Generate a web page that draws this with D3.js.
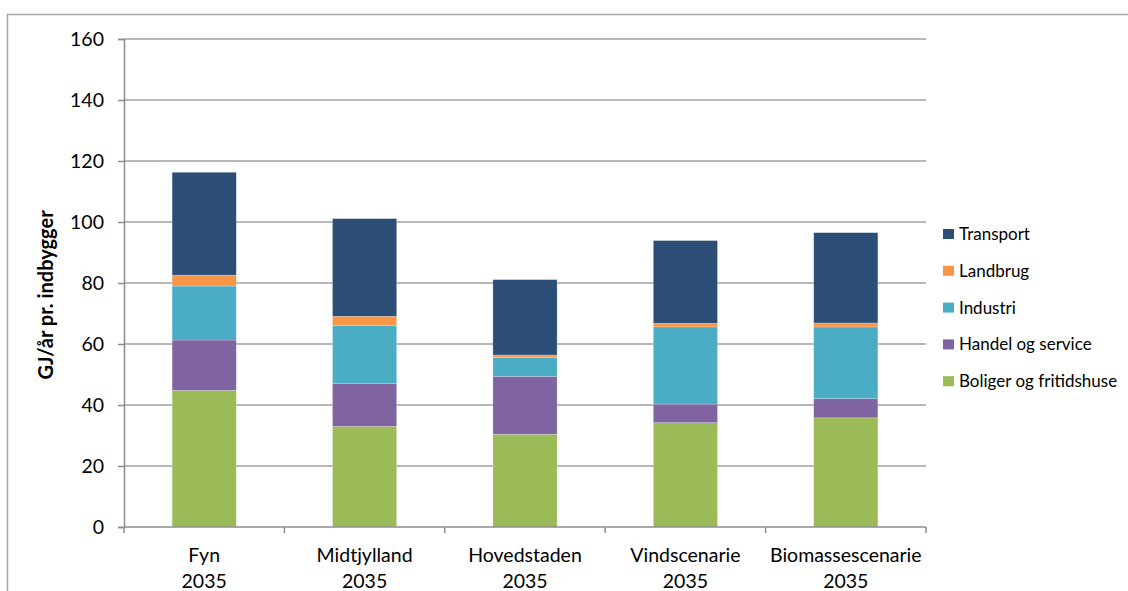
<!DOCTYPE html>
<html>
<head>
<meta charset="utf-8">
<script src="https://cdn.jsdelivr.net/npm/d3@7"></script>
<style>
  body { margin: 0; background: #fff; }
  text { font-family: Lato, "Open Sans", sans-serif; fill: #000; }
</style>
</head>
<body>
<div id="chart"></div>
<script>
// Chart data
const categories = ['Fyn', 'Midtjylland', 'Hovedstaden', 'Vindscenarie', 'Biomassescenarie'];
const years = ['2035', '2035', '2035', '2035', '2035'];
const seriesNames = ['Boliger og fritidshuse', 'Handel og service', 'Industri', 'Landbrug', 'Transport'];
const boliger = [44.8, 33.0, 30.4, 34.2, 35.8];
const handel = [16.5, 14.0, 19.0, 6.1, 6.3];
const industri = [17.7, 19.0, 6.2, 25.3, 23.5];
const landbrug = [3.6, 3.1, 0.8, 1.2, 1.3];
const transport = [33.7, 32.0, 24.7, 27.1, 29.6];
const yTicks = [0, 20, 40, 60, 80, 100, 120, 140, 160];
const colors = ['#9bbb59', '#8064a2', '#4bacc6', '#f79646', '#2c4d75'];

const seriesValues = [boliger, handel, industri, landbrug, transport];

const width = 1128, height = 591;
const margin = { left: 124, right: 202, top: 39, bottom: 64 };

const svg = d3.select('#chart').append('svg')
    .attr('width', width)
    .attr('height', height);

// chart area border (only top and left edges visible)
svg.append('path')
    .attr('d', `M7.5,${height} V14.5 H${width}`)
    .attr('fill', 'none')
    .attr('stroke', '#a6a6a6')
    .attr('stroke-width', 1.5);

const x = d3.scaleBand()
    .domain(categories)
    .range([margin.left, width - margin.right])
    .paddingInner(0.6)
    .paddingOuter(0.3);

const y = d3.scaleLinear()
    .domain([0, 160])
    .range([height - margin.bottom, margin.top]);

// gridlines
svg.append('g')
    .selectAll('line')
    .data(yTicks.filter(d => d > 0))
    .enter()
    .append('line')
    .attr('x1', margin.left)
    .attr('x2', width - margin.right)
    .attr('y1', d => y(d))
    .attr('y2', d => y(d))
    .attr('stroke', '#a0a0a0')
    .attr('stroke-width', 1.5);

// stacked bars
const rows = categories.map((c, i) => {
    const row = { cat: c };
    seriesNames.forEach((s, j) => { row[s] = seriesValues[j][i]; });
    return row;
});
const stack = d3.stack().keys(seriesNames)(rows);

svg.append('g')
    .selectAll('g')
    .data(stack)
    .enter()
    .append('g')
    .attr('fill', (d, i) => colors[i])
    .selectAll('rect')
    .data(d => d)
    .enter()
    .append('rect')
    .attr('x', d => x(d.data.cat))
    .attr('width', x.bandwidth())
    .attr('y', d => y(d[1]))
    .attr('height', d => y(d[0]) - y(d[1]))
    .attr('stroke', 'rgba(255,255,255,0.35)')
    .attr('stroke-width', 0.6);

// y axis
const yAxis = svg.append('g')
    .attr('transform', `translate(${margin.left},0)`)
    .call(d3.axisLeft(y).tickValues(yTicks).tickSize(6).tickPadding(14));
yAxis.select('.domain').attr('stroke', '#8c8c8c').attr('stroke-width', 1.5);
yAxis.selectAll('.tick line').attr('stroke', '#8c8c8c').attr('stroke-width', 1.5);
yAxis.selectAll('.tick text')
    .attr('font-size', 19.5)
    .attr('font-family', 'Lato, "Open Sans", sans-serif')
    .attr('fill', '#000');

// x axis
const xg = svg.append('g');
xg.append('line')
    .attr('x1', margin.left)
    .attr('x2', width - margin.right)
    .attr('y1', y(0))
    .attr('y2', y(0))
    .attr('stroke', '#8c8c8c')
    .attr('stroke-width', 1.5);
xg.selectAll('.xtick')
    .data(d3.range(categories.length + 1))
    .enter()
    .append('line')
    .attr('class', 'xtick')
    .attr('x1', i => margin.left + i * x.step())
    .attr('x2', i => margin.left + i * x.step())
    .attr('y1', y(0))
    .attr('y2', y(0) + 6)
    .attr('stroke', '#8c8c8c')
    .attr('stroke-width', 1.5);

const labels = xg.selectAll('.xlabel')
    .data(categories)
    .enter()
    .append('text')
    .attr('class', 'xlabel')
    .attr('text-anchor', 'middle')
    .attr('font-size', 19.5)
    .attr('x', d => x(d) + x.bandwidth() / 2);
labels.append('tspan')
    .attr('x', d => x(d) + x.bandwidth() / 2)
    .attr('y', 562)
    .text(d => d);
labels.append('tspan')
    .attr('x', d => x(d) + x.bandwidth() / 2)
    .attr('y', 588)
    .text((d, i) => years[i]);

// y axis title
svg.append('text')
    .attr('transform', `translate(53,295) rotate(-90)`)
    .attr('text-anchor', 'middle')
    .attr('font-size', 20)
    .attr('font-weight', 'bold')
    .text('GJ/år pr. indbygger');

// legend (reversed order, Transport on top)
const legendOrder = seriesNames.map((s, i) => ({ name: s, color: colors[i] })).reverse();
const legend = svg.append('g')
    .selectAll('g')
    .data(legendOrder)
    .enter()
    .append('g')
    .attr('transform', (d, i) => `translate(943,${234 + i * 36.8})`);
legend.append('rect')
    .attr('x', 0)
    .attr('y', -5)
    .attr('width', 11)
    .attr('height', 10)
    .attr('fill', d => d.color);
legend.append('text')
    .attr('x', 16)
    .attr('y', 6)
    .attr('font-size', 17)
    .text(d => d.name);
</script>
</body>
</html>
